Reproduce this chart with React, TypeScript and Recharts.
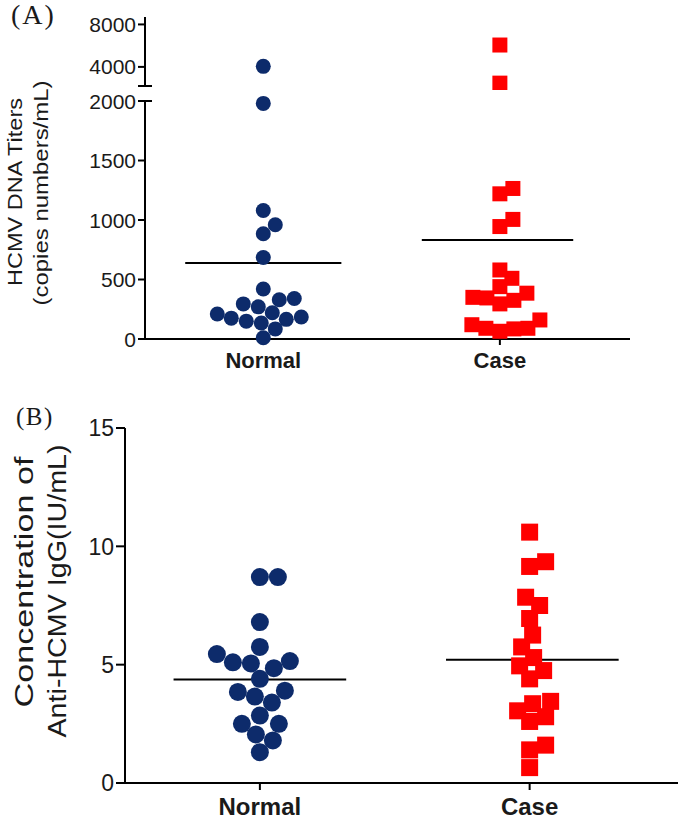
import React from "react";
import { ScatterChart, Scatter, XAxis, YAxis, ReferenceLine } from "recharts";

const groups = ["Normal", "Case"];

// (A) HCMV DNA titers, copies numbers/mL
const dnaNormal = [4050, 1980, 1080, 960, 885, 685, 420, 340, 330, 295, 270, 220, 210, 185, 175, 165, 150, 135, 85, 10];
const dnaCase = [6060, 2470, 1265, 1220, 1005, 945, 580, 510, 440, 385, 350, 345, 325, 295, 160, 120, 90, 90, 85, 65];
const dnaMeans = [638, 832];
const dnaLowTicks = [0, 500, 1000, 1500, 2000];
const dnaHighTicks = [2200, 4000, 8000];
const dnaLowDomain = [0, 2000];
const dnaHighDomain = [2200, 8700];

// (B) anti-HCMV IgG, IU/mL
const iggNormal = [8.7, 8.7, 6.8, 5.75, 5.45, 5.1, 5.05, 5.15, 4.85, 4.4, 3.9, 3.85, 3.65, 3.4, 2.85, 2.5, 2.5, 2.05, 1.8, 1.3];
const iggCase = [10.6, 9.35, 9.15, 7.85, 7.5, 6.95, 6.25, 5.75, 5.3, 4.95, 4.75, 4.4, 3.45, 3.35, 3.05, 2.8, 2.6, 1.6, 1.4, 0.65];
const iggMeans = [4.37, 5.21];
const iggTicks = [0, 5, 10, 15];

const X_DOMAIN = [0.5, 2.55];
const NAVY = "#0d2b6b";
const RED = "#ff0000";
const INK = "#1a1a1a";
const SANS = "'Liberation Sans', Arial, sans-serif";
const SERIF = "'Liberation Serif', serif";

// layout (page pixels)
const A = { left: 145, right: 630, lowTop: 101, lowBottom: 339, highTop: 17, highBottom: 86, height: 380 };
const B = { top: 380, left: 125, right: 678, plotTop: 428, plotBottom: 783, height: 441 };

// simple beeswarm: place each point as close to the centre line as it can go without overlap
function swarm(values: number[], pxPerY: number, pxPerX: number, diam: number): number[] {
  const placed: { x: number; y: number }[] = [];
  const out = values.map(() => 0);
  const order = values.map((_, i) => i).sort((a, b) => values[a] - values[b]);
  for (const i of order) {
    const y = values[i] * pxPerY;
    let x = 0;
    for (let k = 0; k < 400; k++) {
      const c = k === 0 ? 0 : (k % 2 ? 1 : -1) * Math.ceil(k / 2);
      if (placed.every((p) => Math.hypot(p.x - c, p.y - y) >= diam)) {
        x = c;
        break;
      }
    }
    placed.push({ x, y });
    out[i] = x / pxPerX;
  }
  return out;
}

function toPoints(values: number[], group: number, pxPerY: number, pxPerX: number, diam: number) {
  const offs = swarm(values, pxPerY, pxPerX, diam);
  return values.map((v, i) => ({ x: group + offs[i], y: v }));
}

const aPxX = (A.right - A.left) / (X_DOMAIN[1] - X_DOMAIN[0]);
const aPxLow = (A.lowBottom - A.lowTop) / (dnaLowDomain[1] - dnaLowDomain[0]);
const aPxHigh = (A.highBottom - A.highTop) / (dnaHighDomain[1] - dnaHighDomain[0]);
const bPxX = (B.right - B.left) / (X_DOMAIN[1] - X_DOMAIN[0]);
const bPxY = (B.plotBottom - B.plotTop) / 15;

const splitLow = (vals: number[]) => vals.filter((v) => v <= dnaLowDomain[1]);
const splitHigh = (vals: number[]) => vals.filter((v) => v > dnaLowDomain[1]);

const aNormalLow = toPoints(splitLow(dnaNormal), 1, aPxLow, aPxX, 14.5);
const aCaseLow = toPoints(splitLow(dnaCase), 2, aPxLow, aPxX, 14);
const aNormalHigh = toPoints(splitHigh(dnaNormal), 1, aPxHigh, aPxX, 14.5);
const aCaseHigh = toPoints(splitHigh(dnaCase), 2, aPxHigh, aPxX, 14);
const bNormal = toPoints(iggNormal, 1, bPxY, bPxX, 17.5);
const bCase = toPoints(iggCase, 2, bPxY, bPxX, 16);

const dot = (r: number) => (p: any) => <circle cx={p.cx} cy={p.cy} r={r} fill={NAVY} />;
const square = (s: number) => (p: any) => (
  <rect x={p.cx - s / 2} y={p.cy - s / 2} width={s} height={s} fill={RED} />
);

// y tick with optional axis-break cap (crossing the axis) and optional hidden label
function yTick(size: number, tickSize: number, tickMargin: number, caps: number[], hidden: number[]) {
  return (p: any) => {
    const v = p.payload.value;
    const ax = p.x + tickSize + tickMargin;
    return (
      <g>
        {caps.includes(v) && (
          <line x1={ax - tickSize} x2={ax + tickSize} y1={p.y} y2={p.y} stroke="#000" strokeWidth={2} />
        )}
        {!hidden.includes(v) && (
          <text x={p.x} y={p.y} dy="0.36em" textAnchor="end" style={{ fontFamily: SANS, fontSize: size, fill: INK }}>
            {v}
          </text>
        )}
      </g>
    );
  };
}

// two-line rotated y-axis title, drawn over the chart
type TitleLine = { text: string; x: number; y: number; length: number };
function AxisTitle({ top, height, size, lines }: { top: number; height: number; size: number; lines: TitleLine[] }) {
  return (
    <svg width={90} height={height} style={{ position: "absolute", left: 0, top }}>
      {lines.map((l) => (
        <text
          key={l.text}
          transform={`translate(${l.x},${l.y - top}) rotate(-90)`}
          textAnchor="middle"
          fontSize={size}
          fontFamily={SANS}
          textLength={l.length}
          lengthAdjust="spacingAndGlyphs"
          fill={INK}
        >
          {l.text}
        </text>
      ))}
    </svg>
  );
}

const axisStroke = { stroke: "#000", strokeWidth: 2 };
const catTick = (fontSize: number) => ({ fontFamily: SANS, fontSize, fontWeight: 700, fill: INK });
const catFormat = (v: number) => groups[v - 1] ?? "";

export default function App() {
  return (
    <div style={{ position: "absolute", left: 0, top: 0, width: 685, height: 821, background: "#fff" }}>
      <div style={{ position: "absolute", left: 11, top: 1, fontFamily: SERIF, fontSize: 28, letterSpacing: 2, lineHeight: "28px", color: INK }}>
        (A)
      </div>
      <div style={{ position: "absolute", left: 16, top: 403, fontFamily: SERIF, fontSize: 25, letterSpacing: 1.5, lineHeight: "28px", color: INK }}>
        (B)
      </div>

      {/* (A) lower segment 0-2000 */}
      <div style={{ position: "absolute", left: 0, top: 0 }}>
        <ScatterChart width={685} height={A.height} margin={{ top: A.lowTop, right: 685 - A.right, bottom: 0, left: 0 }}>
          <XAxis
            type="number"
            dataKey="x"
            domain={X_DOMAIN}
            ticks={[1, 2]}
            interval={0}
            tickFormatter={catFormat}
            height={A.height - A.lowBottom}
            axisLine={axisStroke}
            tickLine={axisStroke}
            tickSize={6}
            tickMargin={7}
            tick={catTick(22)}
          />
          <YAxis
            type="number"
            dataKey="y"
            domain={dnaLowDomain}
            ticks={dnaLowTicks}
            interval={0}
            width={A.left}
            axisLine={axisStroke}
            tickLine={axisStroke}
            tickSize={7}
            tickMargin={2}
            tick={yTick(21, 7, 2, [2000], [])}
          />
          <Scatter data={aNormalLow} shape={dot(7.5)} isAnimationActive={false} />
          <Scatter data={aCaseLow} shape={square(15)} isAnimationActive={false} />
          <ReferenceLine segment={[{ x: 1 - 0.33, y: dnaMeans[0] }, { x: 1 + 0.33, y: dnaMeans[0] }]} stroke="#000" strokeWidth={2} />
          <ReferenceLine segment={[{ x: 2 - 0.33, y: dnaMeans[1] }, { x: 2 + 0.31, y: dnaMeans[1] }]} stroke="#000" strokeWidth={2} />
        </ScatterChart>
      </div>

      {/* (A) upper segment above the axis break */}
      <div style={{ position: "absolute", left: 0, top: 0 }}>
        <ScatterChart width={685} height={A.highBottom + 4} margin={{ top: A.highTop, right: 685 - A.right, bottom: 4, left: 0 }}>
          <XAxis type="number" dataKey="x" domain={X_DOMAIN} hide />
          <YAxis
            type="number"
            dataKey="y"
            domain={dnaHighDomain}
            ticks={dnaHighTicks}
            interval={0}
            width={A.left}
            axisLine={axisStroke}
            tickLine={axisStroke}
            tickSize={7}
            tickMargin={2}
            tick={yTick(21, 7, 2, [dnaHighDomain[0]], [dnaHighDomain[0]])}
          />
          <Scatter data={aNormalHigh} shape={dot(7.5)} isAnimationActive={false} />
          <Scatter data={aCaseHigh} shape={square(15)} isAnimationActive={false} />
        </ScatterChart>
      </div>

      <AxisTitle
        top={60}
        height={270}
        size={20}
        lines={[
          { text: "HCMV DNA Titers", x: 22, y: 192, length: 188 },
          { text: "(copies numbers/mL)", x: 48, y: 193, length: 225 },
        ]}
      />

      {/* (B) */}
      <div style={{ position: "absolute", left: 0, top: B.top }}>
        <ScatterChart width={685} height={B.height} margin={{ top: B.plotTop - B.top, right: 685 - B.right, bottom: 0, left: 0 }}>
          <XAxis
            type="number"
            dataKey="x"
            domain={X_DOMAIN}
            ticks={[1, 2]}
            interval={0}
            tickFormatter={catFormat}
            height={B.top + B.height - B.plotBottom}
            axisLine={axisStroke}
            tickLine={axisStroke}
            tickSize={7}
            tickMargin={8}
            tick={catTick(24)}
          />
          <YAxis
            type="number"
            dataKey="y"
            domain={[0, 15]}
            ticks={iggTicks}
            interval={0}
            width={B.left}
            axisLine={axisStroke}
            tickLine={axisStroke}
            tickSize={9}
            tickMargin={2}
            tick={yTick(23, 9, 2, [], [])}
          />
          <Scatter data={bNormal} shape={dot(9)} isAnimationActive={false} />
          <Scatter data={bCase} shape={square(17)} isAnimationActive={false} />
          <ReferenceLine segment={[{ x: 1 - 0.32, y: iggMeans[0] }, { x: 1 + 0.32, y: iggMeans[0] }]} stroke="#000" strokeWidth={2} />
          <ReferenceLine segment={[{ x: 2 - 0.31, y: iggMeans[1] }, { x: 2 + 0.33, y: iggMeans[1] }]} stroke="#000" strokeWidth={2} />
        </ScatterChart>
      </div>

      <AxisTitle
        top={420}
        height={340}
        size={25}
        lines={[
          { text: "Concentration of", x: 33, y: 582, length: 251 },
          { text: "Anti-HCMV IgG(IU/mL)", x: 66, y: 591, length: 293 },
        ]}
      />
    </div>
  );
}
